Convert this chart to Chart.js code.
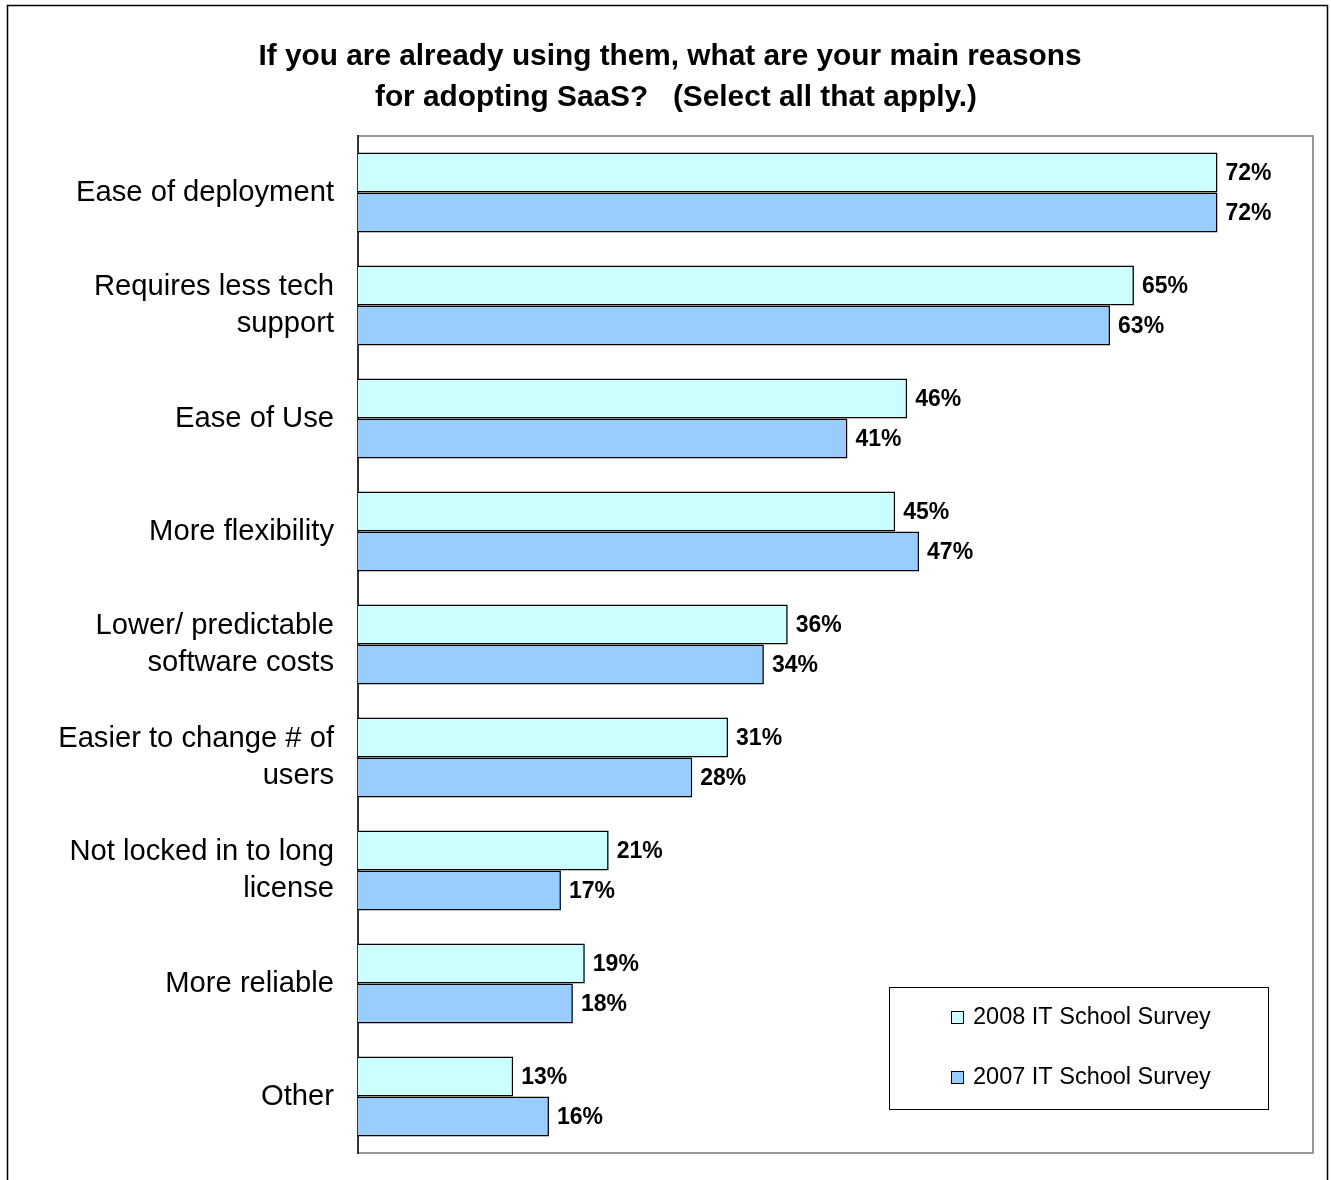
<!DOCTYPE html>
<html>
<head>
<meta charset="utf-8">
<script src="https://cdn.jsdelivr.net/npm/chart.js@4.4.0/dist/chart.umd.min.js"></script>
<style>
  body { margin: 0; background: #fff; }
  #wrap { width: 1331px; height: 1180px; position: relative; }
</style>
</head>
<body>
<div id="wrap"><canvas id="saas-chart"></canvas></div>
<script>
const categories = [
    ['Ease of deployment'],
    ['Requires less tech', 'support'],
    ['Ease of Use'],
    ['More flexibility'],
    ['Lower/ predictable', 'software costs'],
    ['Easier to change # of', 'users'],
    ['Not locked in to long', 'license'],
    ['More reliable'],
    ['Other']
];
const survey2008 = [72, 65, 46, 45, 36, 31, 21, 19, 13];
const survey2007 = [72, 63, 41, 47, 34, 28, 17, 18, 16];
const seriesNames = ['2008 IT School Survey', '2007 IT School Survey'];
const titleLines = [
    'If you are already using them, what are your main reasons',
    'for adopting SaaS?   (Select all that apply.)'
];

const FONT = 'Arial, "Liberation Sans", sans-serif';

// frame, title and plot border
const framePlugin = {
    id: 'frame',
    beforeDraw(chart) {
        const ctx = chart.ctx;
        const area = chart.chartArea;
        ctx.save();
        ctx.fillStyle = '#fff';
        ctx.fillRect(0, 0, chart.width, chart.height);
        ctx.strokeStyle = '#000';
        ctx.lineWidth = 1.5;
        ctx.strokeRect(7.5, 5.5, 1320, 1200);

        ctx.strokeStyle = '#999';
        ctx.lineWidth = 2;
        ctx.beginPath();
        ctx.moveTo(area.left, area.top);
        ctx.lineTo(area.right, area.top);
        ctx.lineTo(area.right, area.bottom);
        ctx.lineTo(area.left, area.bottom);
        ctx.stroke();

        ctx.fillStyle = '#000';
        ctx.font = 'bold 29.8px ' + FONT;
        ctx.textAlign = 'center';
        ctx.textBaseline = 'middle';
        ctx.fillText(titleLines[0], 670, 57);
        ctx.fillText(titleLines[1], 676, 98);
        ctx.restore();
    }
};

// value labels + legend box
const labelPlugin = {
    id: 'valueLabels',
    afterDatasetsDraw(chart) {
        const ctx = chart.ctx;
        ctx.save();
        ctx.fillStyle = '#000';
        ctx.font = 'bold 23px ' + FONT;
        ctx.textAlign = 'left';
        ctx.textBaseline = 'middle';
        chart.data.datasets.forEach((ds, i) => {
            chart.getDatasetMeta(i).data.forEach((bar, j) => {
                ctx.fillText(ds.data[j] + '%', bar.x + 8, bar.y + 1);
            });
        });

        // legend
        ctx.fillStyle = '#fff';
        ctx.fillRect(889, 987, 379, 122);
        ctx.strokeStyle = '#000';
        ctx.lineWidth = 1;
        ctx.strokeRect(889.5, 987.5, 379, 122);
        ctx.font = '23.5px ' + FONT;
        chart.data.datasets.forEach((ds, i) => {
            const y = 1017 + i * 60;
            ctx.fillStyle = ds.backgroundColor;
            ctx.fillRect(951, y - 6, 13, 13);
            ctx.strokeStyle = '#000';
            ctx.strokeRect(951.5, y - 5.5, 12, 12);
            ctx.fillStyle = '#000';
            ctx.fillText(ds.label, 973, y + 1);
        });
        ctx.restore();
    }
};

new Chart(document.getElementById('saas-chart').getContext('2d'), {
    type: 'bar',
    data: {
        labels: categories,
        datasets: [
            {
                label: seriesNames[0],
                data: survey2008,
                backgroundColor: '#CCFFFF',
                borderColor: '#000',
                borderWidth: 1.6
            },
            {
                label: seriesNames[1],
                data: survey2007,
                backgroundColor: '#99CCFF',
                borderColor: '#000',
                borderWidth: 1.6
            }
        ]
    },
    options: {
        indexAxis: 'y',
        responsive: true,
        maintainAspectRatio: false,
        animation: false,
        layout: { padding: { left: 8, right: 18, top: 136, bottom: 27 } },
        datasets: {
            bar: { categoryPercentage: 0.708, barPercentage: 1.0 }
        },
        plugins: {
            legend: { display: false },
            title: { display: false },
            tooltip: { enabled: false }
        },
        scales: {
            x: { display: false, min: 0, max: 80 },
            y: {
                afterFit(scale) {
                    scale.width = 350;
                    scale.paddingTop = 0;
                    scale.paddingBottom = 0;
                },
                grid: { display: false, drawTicks: false },
                border: { display: true, color: '#333', width: 2 },
                ticks: {
                    color: '#000',
                    padding: 24,
                    font: { family: FONT, size: 29.2, lineHeight: 1.27 }
                }
            }
        }
    },
    plugins: [framePlugin, labelPlugin]
});
</script>
</body>
</html>
